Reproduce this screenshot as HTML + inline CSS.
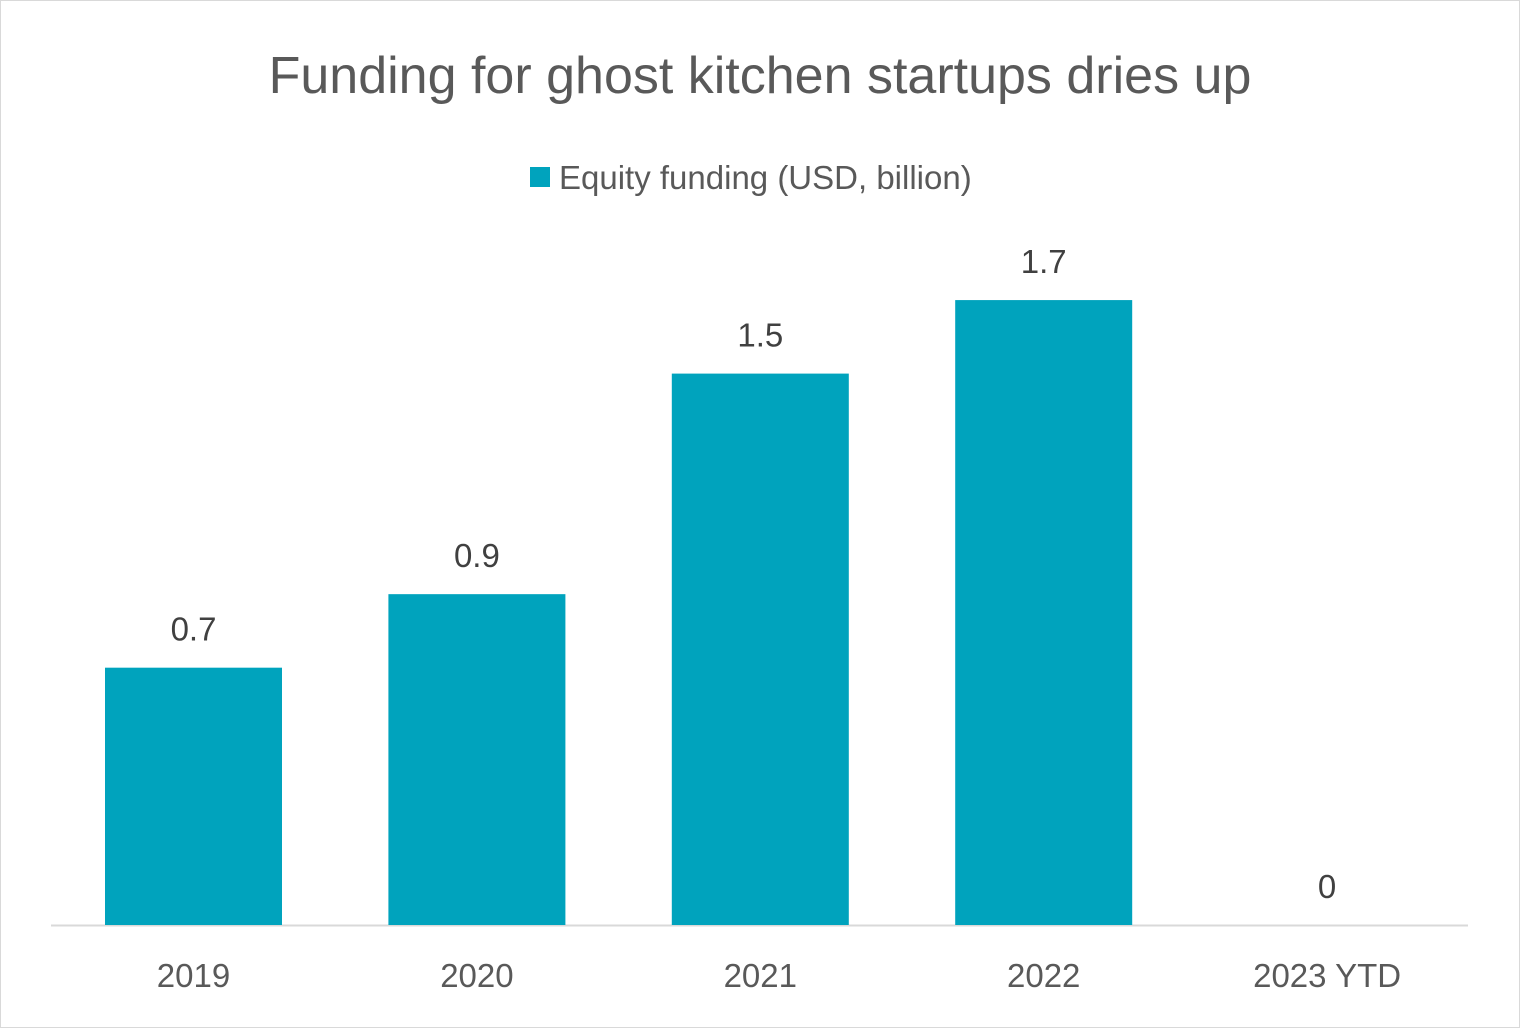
<!DOCTYPE html>
<html><head><meta charset="utf-8"><style>
body{margin:0;background:#fff;font-family:"Liberation Sans",sans-serif;}
#frame{position:absolute;left:0;top:0;width:1518px;height:1026px;border:1px solid #d9d9d9;}
</style></head><body>
<div id="frame"></div>
<svg id="chart" width="1520" height="1028" style="position:absolute;left:0;top:0">
<text x="760" y="93" text-anchor="middle" font-size="52" fill="#595959">Funding for ghost kitchen startups dries up</text>
<g>
<rect x="530" y="167" width="20" height="20" fill="#00A3BD"></rect>
<text x="559" y="189" font-size="33" fill="#595959">Equity funding (USD, billion)</text>
</g>
<line x1="51" y1="925.5" x2="1468" y2="925.5" stroke="#d9d9d9" stroke-width="2"></line>
<g id="bars"></g>
</svg>
<script>
const categories = ["2019","2020","2021","2022","2023 YTD"];
const values = [0.7,0.9,1.5,1.7,0];
const valueLabels = ["0.7","0.9","1.5","1.7","0"];
const x0=51.8, band=283.4, barW=177, baseY=925, pxPerUnit=367.6;
const xScale=i=>x0+band*i+band/2;
const yScale=v=>baseY-v*pxPerUnit;
const g=document.getElementById('bars');
const ns="http://www.w3.org/2000/svg";
categories.forEach((c,i)=>{
  const v=values[i];
  const r=document.createElementNS(ns,'rect');
  
  
  r.setAttribute('x',xScale(i)-barW/2);
  r.setAttribute('y',yScale(v));
  r.setAttribute('width',barW);
  r.setAttribute('height',baseY-yScale(v));
  r.setAttribute('fill','#00A3BD');
  g.appendChild(r);
  const t=document.createElementNS(ns,'text');
  
  
  t.setAttribute('x',xScale(i));
  t.setAttribute('y',yScale(v)-27);
  t.setAttribute('text-anchor','middle');
  t.setAttribute('font-size','33');
  t.setAttribute('fill','#404040');
  t.textContent=valueLabels[i];
  g.appendChild(t);
  const l=document.createElementNS(ns,'text');
  
  
  l.setAttribute('x',xScale(i));
  l.setAttribute('y',987);
  l.setAttribute('text-anchor','middle');
  l.setAttribute('font-size','33');
  l.setAttribute('fill','#595959');
  l.textContent=c;
  g.appendChild(l);
});
</script>
</body></html>
